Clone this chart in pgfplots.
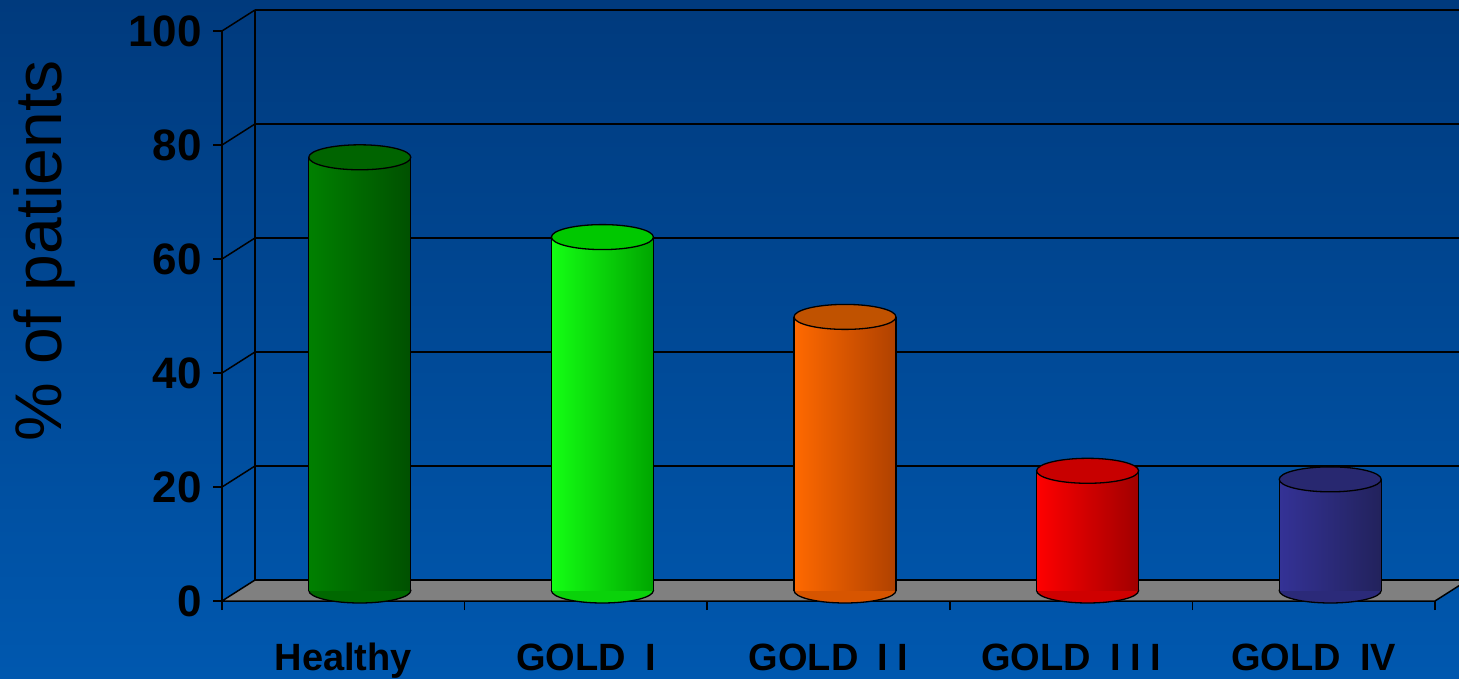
\documentclass[border=0pt]{standalone}
\usepackage{pgfplots}
\pgfplotsset{compat=1.18}
\usepackage{pgfplotstable}
\usepackage{fontspec}
\setmainfont{Liberation Sans}
\definecolor{bgtop}{RGB}{0,58,125}
\definecolor{bgbot}{RGB}{0,88,175}
\definecolor{floorgray}{RGB}{128,128,128}
% cylinder colours: left, right, top
\definecolor{hL}{RGB}{0,128,0}\definecolor{hR}{RGB}{0,80,0}\definecolor{hT}{RGB}{0,100,0}
\definecolor{aL}{RGB}{20,255,20}\definecolor{aR}{RGB}{0,165,0}\definecolor{aT}{RGB}{0,200,0}
\definecolor{bL}{RGB}{255,105,0}\definecolor{bR}{RGB}{175,65,0}\definecolor{bT}{RGB}{192,82,0}
\definecolor{cL}{RGB}{255,0,0}\definecolor{cR}{RGB}{160,0,0}\definecolor{cT}{RGB}{200,0,0}
\definecolor{dL}{RGB}{52,50,150}\definecolor{dR}{RGB}{34,34,92}\definecolor{dT}{RGB}{40,40,112}

\pgfplotstableread{
x v
0.5 76
1.5 62
2.5 48
3.5 21
4.5 19.5
}\bardata

\pgfplotsset{only row/.style={x filter/.code={\ifnum\coordindex=#1\relax\else\def\pgfmathresult{}\fi}}}

\newcommand{\cylbottom}[3]{%
  \addplot[only marks, mark=*, mark size=51pt, only row=#1,
    mark options={yscale=0.245, fill=#2!50!#3, draw=black, line width=1.3pt}]
    table[x=x, y expr=0] {\bardata};}
\newcommand{\cylbody}[3]{%
  \addplot[ybar, bar width=102pt, bar shift=0pt, draw=none, left color=#2, right color=#3,
    only row=#1]
    table[x=x, y=v] {\bardata};}
\newcommand{\cyltop}[2]{%
  \addplot[only marks, mark=*, mark size=51pt, only row=#1,
    mark options={yscale=0.245, fill=#2, draw=black, line width=1.3pt}]
    table[x=x, y=v] {\bardata};}

\begin{document}
\begin{tikzpicture}
\useasboundingbox (0,0) rectangle (1459pt,678pt);
\clip (0,0) rectangle (1459pt,678pt);
\shade[top color=bgtop, bottom color=bgbot] (0,0) rectangle (1459pt,678pt);

% back wall
\begin{axis}[at={(255pt,98pt)}, anchor=south west, scale only axis,
  width=1213pt, height=570pt, xmin=0, xmax=5, ymin=0, ymax=100,
  axis x line=none, axis y line*=left,
  axis line style={-, black, line width=1.5pt},
  xtick=\empty, ytick={0,20,...,100}, yticklabels={}, major tick length=0pt,
  ymajorgrids, grid style={black, line width=1.5pt}]
\end{axis}

% front: floor, side wall, axes, labels
\begin{axis}[at={(222pt,77pt)}, anchor=south west, scale only axis,
  width=1213pt, height=570pt, xmin=0, xmax=5, ymin=0, ymax=100, clip=false,
  axis x line*=bottom, axis y line*=left,
  axis line style={-, black, line width=1.5pt},
  tick align=outside, major tick length=9pt, tick style={black, line width=1.5pt},
  ytick={0,20,...,100}, yticklabels={0,20,40,60,80,100},
  yticklabel style={font=\fontsize{44}{44}\selectfont\bfseries, anchor=east, inner sep=0pt, xshift=-11pt},
  xtick={0,1,2,3,4,5}, xticklabels={},
  extra x ticks={0.5,1.5,2.5,3.5,4.5},
  extra x tick labels={Healthy, GOLD\hspace{0.5em}I, GOLD\hspace{0.5em}I\hspace{0.25em}I,
    GOLD\hspace{0.5em}I\hspace{0.25em}I\hspace{0.25em}I, GOLD\hspace{0.5em}IV},
  extra x tick style={major tick length=0pt},
  xticklabel style={font=\fontsize{38}{38}\selectfont\bfseries, anchor=base, inner sep=0pt, yshift=-69pt},
  ylabel={\% of patients},
  ylabel style={at={(axis description cs:-0.146,0.614)}, anchor=center,
    font=\fontsize{66}{66}\selectfont}]
\addplot[fill=floorgray, draw=black, line width=1.5pt] coordinates
  {(0,0) (5,0) (5.136,3.684) (0.136,3.684) (0,0)};
\addplot[black, line width=1.5pt] coordinates {(0,20) (0.136,23.684)};
\addplot[black, line width=1.5pt] coordinates {(0,40) (0.136,43.684)};
\addplot[black, line width=1.5pt] coordinates {(0,60) (0.136,63.684)};
\addplot[black, line width=1.5pt] coordinates {(0,80) (0.136,83.684)};
\addplot[black, line width=1.5pt] coordinates {(0,100) (0.136,103.684)};
\end{axis}

% cylinders, at mid depth
\begin{axis}[at={(238.5pt,87.5pt)}, anchor=south west, scale only axis,
  width=1213pt, height=570pt, xmin=0, xmax=5, ymin=0, ymax=100, clip=false, hide axis,
  clip marker paths=true]
\cylbottom{0}{hL}{hR}
\cylbottom{1}{aL}{aR}
\cylbottom{2}{bL}{bR}
\cylbottom{3}{cL}{cR}
\cylbottom{4}{dL}{dR}
\cylbody{0}{hL}{hR}
\cylbody{1}{aL}{aR}
\cylbody{2}{bL}{bR}
\cylbody{3}{cL}{cR}
\cylbody{4}{dL}{dR}
\addplot[black, line width=1.3pt] coordinates {(0.2898,0) (0.2898,76)};
\addplot[black, line width=1.3pt] coordinates {(0.7102,0) (0.7102,76)};
\addplot[black, line width=1.3pt] coordinates {(1.2898,0) (1.2898,62)};
\addplot[black, line width=1.3pt] coordinates {(1.7102,0) (1.7102,62)};
\addplot[black, line width=1.3pt] coordinates {(2.2898,0) (2.2898,48)};
\addplot[black, line width=1.3pt] coordinates {(2.7102,0) (2.7102,48)};
\addplot[black, line width=1.3pt] coordinates {(3.2898,0) (3.2898,21)};
\addplot[black, line width=1.3pt] coordinates {(3.7102,0) (3.7102,21)};
\addplot[black, line width=1.3pt] coordinates {(4.2898,0) (4.2898,19.5)};
\addplot[black, line width=1.3pt] coordinates {(4.7102,0) (4.7102,19.5)};
\cyltop{0}{hT}
\cyltop{1}{aT}
\cyltop{2}{bT}
\cyltop{3}{cT}
\cyltop{4}{dT}
\end{axis}
\end{tikzpicture}
\end{document}
